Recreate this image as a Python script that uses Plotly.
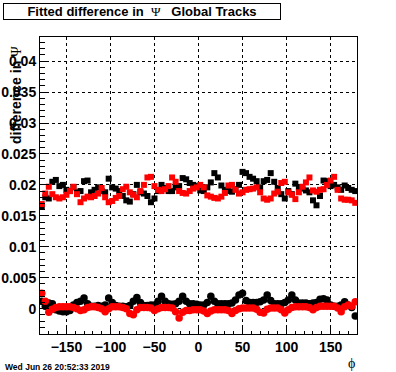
import plotly.graph_objects as go

# bin width 4 degrees, centres from -178 to 178
bin_width = 4
phi_start = -178

black_squares = [
    0.0165, 0.0180, 0.0178, 0.0205, 0.0208, 0.0198, 0.0200, 0.0192, 0.0190, 0.0196,
    0.0188, 0.0190, 0.0206, 0.0207, 0.0188, 0.0192, 0.0196, 0.0190, 0.0188, 0.0210,
    0.0196, 0.0194, 0.0190, 0.0182, 0.0175, 0.0173, 0.0185, 0.0200, 0.0188, 0.0186,
    0.0182, 0.0172, 0.0178, 0.0190, 0.0200, 0.0195, 0.0190, 0.0190, 0.0196, 0.0198,
    0.0211, 0.0209, 0.0203, 0.0200, 0.0198, 0.0191, 0.0190, 0.0196, 0.0204, 0.0219,
    0.0212, 0.0199, 0.0192, 0.0190, 0.0189, 0.0193, 0.0200, 0.0221, 0.0219, 0.0213,
    0.0210, 0.0206, 0.0196, 0.0206, 0.0208, 0.0219, 0.0205, 0.0195, 0.0185, 0.0178,
    0.0190, 0.0185, 0.0202, 0.0196, 0.0194, 0.0191, 0.0188, 0.0175, 0.0167, 0.0182,
    0.0207, 0.0206, 0.0198, 0.0200, 0.0196, 0.0192, 0.0199, 0.0195, 0.0192, 0.0190,
]

red_squares = [
    0.0169, 0.0186, 0.0197, 0.0185, 0.0180, 0.0178, 0.0180, 0.0184, 0.0190, 0.0197,
    0.0185, 0.0172, 0.0178, 0.0181, 0.0180, 0.0182, 0.0186, 0.0195, 0.0180, 0.0172,
    0.0174, 0.0179, 0.0182, 0.0193, 0.0197, 0.0188, 0.0184, 0.0180, 0.0190, 0.0200,
    0.0212, 0.0213, 0.0198, 0.0192, 0.0190, 0.0193, 0.0198, 0.0212, 0.0205, 0.0190,
    0.0187, 0.0186, 0.0190, 0.0194, 0.0196, 0.0200, 0.0196, 0.0183, 0.0181, 0.0179,
    0.0178, 0.0181, 0.0187, 0.0199, 0.0200, 0.0192, 0.0186, 0.0188, 0.0192, 0.0193,
    0.0194, 0.0196, 0.0188, 0.0178, 0.0176, 0.0178, 0.0186, 0.0189, 0.0203, 0.0205,
    0.0188, 0.0184, 0.0177, 0.0188, 0.0197, 0.0204, 0.0212, 0.0191, 0.0189, 0.0192,
    0.0193, 0.0200, 0.0207, 0.0213, 0.0192, 0.0178, 0.0176, 0.0176, 0.0175, 0.0171,
]

black_circles = [
    0.0012, 0.0004, 0.0009, 0.0008, -0.0002, -0.0004, -0.0005, -0.0005, -0.0003, 0.0006,
    0.0010, 0.0012, 0.0017, 0.0008, 0.0004, 0.0004, 0.0005, 0.0004, 0.0006, 0.0017,
    0.0010, 0.0005, 0.0004, 0.0004, 0.0003, 0.0005, 0.0012, 0.0018, 0.0010, 0.0005,
    0.0005, 0.0006, 0.0006, 0.0012, 0.0020, 0.0012, 0.0008, 0.0007, 0.0008, 0.0012,
    0.0020, 0.0012, 0.0008, 0.0008, 0.0007, 0.0006, 0.0006, 0.0010, 0.0020, 0.0012,
    0.0008, 0.0008, 0.0008, 0.0008, 0.0009, 0.0014, 0.0022, 0.0025, 0.0013, 0.0010,
    0.0010, 0.0010, 0.0011, 0.0014, 0.0022, 0.0013, 0.0008, 0.0008, 0.0008, 0.0010,
    0.0014, 0.0022, 0.0014, 0.0009, 0.0009, 0.0009, 0.0008, 0.0009, 0.0010, 0.0015,
    0.0016, 0.0014, 0.0006, 0.0004, 0.0004, 0.0006, 0.0011, 0.0006, 0.0002, -0.0012,
]

red_circles = [
    0.0025, 0.0012, -0.0006, -0.0001, 0.0002, 0.0003, 0.0003, 0.0003, 0.0003, 0.0002,
    0.0000, -0.0003, -0.0002, 0.0002, 0.0003, 0.0003, 0.0002, 0.0000, -0.0005, 0.0000,
    0.0003, 0.0003, 0.0003, 0.0002, 0.0000, -0.0008, -0.0010, -0.0002, 0.0002, 0.0002,
    0.0002, 0.0001, -0.0003, 0.0000, 0.0002, 0.0002, 0.0002, 0.0001, -0.0005, -0.0015,
    -0.0006, -0.0003, -0.0003, -0.0002, -0.0002, -0.0002, -0.0004, -0.0008, -0.0004, -0.0002,
    -0.0002, -0.0002, -0.0002, -0.0003, -0.0008, -0.0003, 0.0000, 0.0001, 0.0001, 0.0001,
    0.0001, -0.0001, -0.0006, -0.0007, -0.0001, 0.0001, 0.0001, 0.0001, -0.0002, -0.0007,
    -0.0002, 0.0002, 0.0003, 0.0003, 0.0003, 0.0003, 0.0002, -0.0002, 0.0002, 0.0004,
    0.0004, 0.0004, 0.0004, 0.0004, 0.0001, -0.0005, 0.0003, 0.0006, 0.0004, 0.0011,
]

y_tick_vals = [0, 0.005, 0.01, 0.015, 0.02, 0.025, 0.03, 0.035, 0.04]
y_tick_text = ["0", "0.005", "0.01", "0.015", "0.02", "0.025", "0.03", "0.035", "0.04"]
x_tick_vals = [-150, -100, -50, 0, 50, 100, 150]

title_text = "Fitted difference in  <span style='font-family:Liberation Serif;font-weight:normal'>Ψ</span>   Global Tracks"
y_title = "difference in <span style='font-family:Liberation Serif;font-weight:normal'>Ψ</span>"
x_title = "ϕ"
date_text = "Wed Jun 26 20:52:33 2019"

def centres(vals):
    return [phi_start + bin_width * i for i in range(len(vals))]

fig = go.Figure()
fig.add_trace(go.Scatter(x=centres(black_squares), y=black_squares, mode="markers",
                         marker=dict(symbol="square", size=6, color="black")))
fig.add_trace(go.Scatter(x=centres(black_circles), y=black_circles, mode="markers",
                         marker=dict(symbol="circle", size=7.5, color="black")))
fig.add_trace(go.Scatter(x=centres(red_squares), y=red_squares, mode="markers",
                         marker=dict(symbol="square", size=6, color="red")))
fig.add_trace(go.Scatter(x=centres(red_circles), y=red_circles, mode="markers",
                         marker=dict(symbol="circle", size=7.5, color="red")))

W, H = 396, 372
ml, mr, mt, mb = 40, 39, 37, 38
pw, ph = W - ml - mr, H - mt - mb

def px_x(p):
    return (p - ml) / pw

def px_y(p):
    return (H - mb - p) / ph

fig.update_layout(
    width=W, height=H,
    margin=dict(l=ml, r=mr, t=mt, b=mb, autoexpand=False),
    paper_bgcolor="white", plot_bgcolor="white",
    showlegend=False,
    font=dict(family="Liberation Sans", color="black"),
    xaxis=dict(
        range=[-180, 180], tickmode="array", tickvals=x_tick_vals, automargin=False,
        ticks="inside", ticklen=6, tickcolor="black", tickwidth=1,
        minor=dict(tick0=0, dtick=10, ticks="inside", ticklen=3, tickcolor="black", showgrid=False),
        showline=True, linecolor="black", linewidth=1, mirror=True,
        showgrid=True, gridcolor="black", griddash="dot", gridwidth=1,
        zeroline=False, tickfont=dict(family="Liberation Sans", size=14, color="black", weight="bold"),
    ),
    yaxis=dict(
        range=[-0.0041, 0.0439], tickmode="array", tickvals=y_tick_vals, ticktext=y_tick_text,
        automargin=False,
        ticks="inside", ticklen=9, tickcolor="black", tickwidth=1,
        minor=dict(tick0=0, dtick=0.001, ticks="inside", ticklen=5, tickcolor="black", showgrid=False),
        showline=True, linecolor="black", linewidth=1, mirror=True,
        showgrid=True, gridcolor="black", griddash="dot", gridwidth=1,
        zeroline=False, tickfont=dict(family="Liberation Sans", size=14, color="black", weight="bold"),
    ),
)

fig.add_annotation(
    xref="paper", yref="paper", x=px_x(3), y=px_y(3), xanchor="left", yanchor="top",
    text="<b>" + title_text + "</b>", showarrow=False, width=276, height=15,
    bgcolor="white", bordercolor="black", borderwidth=1, borderpad=0,
    font=dict(family="Liberation Sans", size=13, color="black"), align="center",
)
fig.add_annotation(
    xref="paper", yref="paper", x=px_x(16), y=px_y(44), xanchor="center", yanchor="top",
    text="<b>" + y_title + "</b>", textangle=-90, showarrow=False,
    font=dict(family="Liberation Sans", size=14, color="black"),
)
fig.add_annotation(
    xref="paper", yref="paper", x=px_x(357), y=px_y(363), xanchor="right", yanchor="middle",
    text=x_title, showarrow=False,
    font=dict(family="Liberation Serif", size=14, color="black"),
)
fig.add_annotation(
    xref="paper", yref="paper", x=px_x(3), y=px_y(360), xanchor="left", yanchor="top",
    text="<b>" + date_text + "</b>", showarrow=False,
    font=dict(family="Liberation Sans", size=8.5, color="black"),
)

fig.write_html("out.html", config={"displayModeBar": False},
               post_script="document.body.style.margin='0';")
